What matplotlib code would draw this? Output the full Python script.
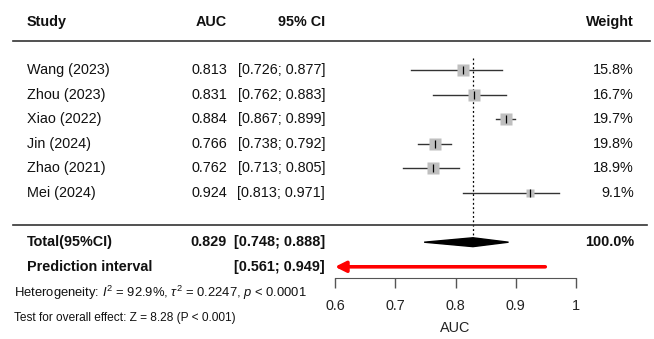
import numpy as np
import matplotlib
matplotlib.use("Agg")
import matplotlib.pyplot as plt
from matplotlib.patches import Polygon

plt.rcParams['font.family'] = ['Liberation Sans', 'DejaVu Sans']
plt.rcParams['mathtext.fontset'] = 'custom'
plt.rcParams['mathtext.rm'] = 'Liberation Sans'
plt.rcParams['mathtext.it'] = 'Liberation Sans:italic'

# -------------------------------
# data
# -------------------------------
studies = ["Wang (2023)", "Zhou (2023)", "Xiao (2022)", "Jin (2024)", "Zhao (2021)", "Mei (2024)"]
auc = [0.813, 0.831, 0.884, 0.766, 0.762, 0.924]
ci_low = [0.726, 0.762, 0.867, 0.738, 0.713, 0.813]
ci_high = [0.877, 0.883, 0.899, 0.792, 0.805, 0.971]
weights = [15.8, 16.7, 19.7, 19.8, 18.9, 9.1]

total_auc = 0.829
total_low = 0.748
total_high = 0.888
pred_low = 0.561
pred_high = 0.949

x_ticks = [0.6, 0.7, 0.8, 0.9, 1.0]
x_tick_labels = ["0.6", "0.7", "0.8", "0.9", "1"]

# -------------------------------
# layout (rows, figure pixels)
# -------------------------------
W, H = 654, 339
px0, px_per = 335, 602.5          # pixel of x=0.6, pixels per AUC unit
row0, row_h = 70, 24.6            # pixel of first study row, row height

fig = plt.figure(figsize=(W / 100, H / 100), dpi=100)
ax = fig.add_axes([0, 0, 1, 1])
ax.set_xlim(0.6 - px0 / px_per, 0.6 + (W - px0) / px_per)
ax.set_ylim((H - row0) / row_h, -row0 / row_h)

rows = np.arange(len(studies))
y_head = -1.95
y_head_line = -1.18
y_sep = 6.3
y_total = 7.0
y_pred = 8.0
y_axis = 8.46
y_het = 9.07
y_test = 10.08
y_xlab = 10.5

col_study = 27 / W
col_auc = 227 / W
col_ci = 325 / W
col_weight = 634 / W
col_note = 14 / W

fs = 10.4
trans = ax.get_yaxis_transform()  # x axes fraction, y data
txt_kw = dict(fontsize=fs, color='#111111', va='center', transform=trans)

# header
ax.text(col_study, y_head, "Study", ha='left', fontweight='bold', **txt_kw)
ax.text(col_auc, y_head, "AUC", ha='right', fontweight='bold', **txt_kw)
ax.text(col_ci, y_head, "95% CI", ha='right', fontweight='bold', **txt_kw)
ax.text(col_weight, y_head, "Weight", ha='right', fontweight='bold', **txt_kw)

ax.axhline(y_head_line, xmin=13 / W, xmax=650 / W, color='#333333', lw=1.2)
ax.axhline(y_sep, xmin=13 / W, xmax=647 / W, color='#333333', lw=1.2)

# study rows
for i, s in enumerate(studies):
    y = rows[i]
    ax.text(col_study, y, s, ha='left', **txt_kw)
    ax.text(col_auc, y, f"{auc[i]:.3f}", ha='right', **txt_kw)
    ax.text(col_ci, y, f"[{ci_low[i]:.3f}; {ci_high[i]:.3f}]", ha='right', **txt_kw)
    ax.text(col_weight, y, f"{weights[i]:.1f}%", ha='right', **txt_kw)
    ax.plot([ci_low[i], ci_high[i]], [y, y], color='#333333', lw=1.0, zorder=2)
    ax.plot(auc[i], y, marker='s', ms=2.1 * np.sqrt(weights[i]), color='#bfbfbf',
            mec='none', zorder=3)
    ax.plot(auc[i], y, marker='|', ms=5.5, mew=0.9, color='black', zorder=4)

# reference dotted line at pooled estimate
ax.plot([total_auc, total_auc], [-0.5, y_total - 0.15], color='black', lw=0.9,
        ls=(0, (1.5, 2)), zorder=1)

# total row
ax.text(col_study, y_total, "Total(95%CI)", ha='left', fontweight='bold', **txt_kw)
ax.text(col_auc, y_total, f"{total_auc:.3f}", ha='right', fontweight='bold', **txt_kw)
ax.text(col_ci, y_total, f"[{total_low:.3f}; {total_high:.3f}]", ha='right',
        fontweight='bold', **txt_kw)
ax.text(col_weight, y_total, "100.0%", ha='right', fontweight='bold', **txt_kw)
dh = 0.18
diamond = Polygon([[total_low, y_total], [total_auc, y_total - dh],
                   [total_high, y_total], [total_auc, y_total + dh]],
                  closed=True, color='black', zorder=3)
ax.add_patch(diamond)

# prediction interval
ax.text(col_study, y_pred, "Prediction interval", ha='left', fontweight='bold', **txt_kw)
ax.text(col_ci, y_pred, f"[{pred_low:.3f}; {pred_high:.3f}]", ha='right',
        fontweight='bold', **txt_kw)
ax.annotate("", xy=(max(pred_low, x_ticks[0]), y_pred), xytext=(pred_high, y_pred),
            arrowprops=dict(arrowstyle='-|>', color='#ff0000', lw=2.6,
                            mutation_scale=16, shrinkA=0, shrinkB=0))

# notes
ax.text(col_note, y_het,
        r"Heterogeneity: $\mathit{I}^{2}$ = 92.9%, $\tau^{2}$ = 0.2247, $\mathit{p}$ < 0.0001",
        ha='left', va='center', fontsize=9.4, color='#111111', transform=trans)
ax.text(col_note, y_test, "Test for overall effect: Z = 8.28 (P < 0.001)",
        ha='left', va='center', fontsize=8.6, color='#111111', transform=trans)

# x axis
for sp in ['top', 'left', 'right']:
    ax.spines[sp].set_visible(False)
ax.spines['bottom'].set_position(('data', y_axis))
ax.spines['bottom'].set_bounds(x_ticks[0], x_ticks[-1])
ax.spines['bottom'].set_color('#555555')
ax.set_xticks(x_ticks)
ax.set_xticklabels(x_tick_labels)
ax.tick_params(axis='x', direction='out', length=7, width=1, color='#555555',
               labelsize=fs, labelcolor='#222222', pad=8)
ax.set_yticks([])
ax.text((x_ticks[0] + x_ticks[-1]) / 2, y_xlab, "AUC", ha='center', va='center',
        fontsize=fs, color='#222222')

fig.savefig("out.png", dpi=100)
